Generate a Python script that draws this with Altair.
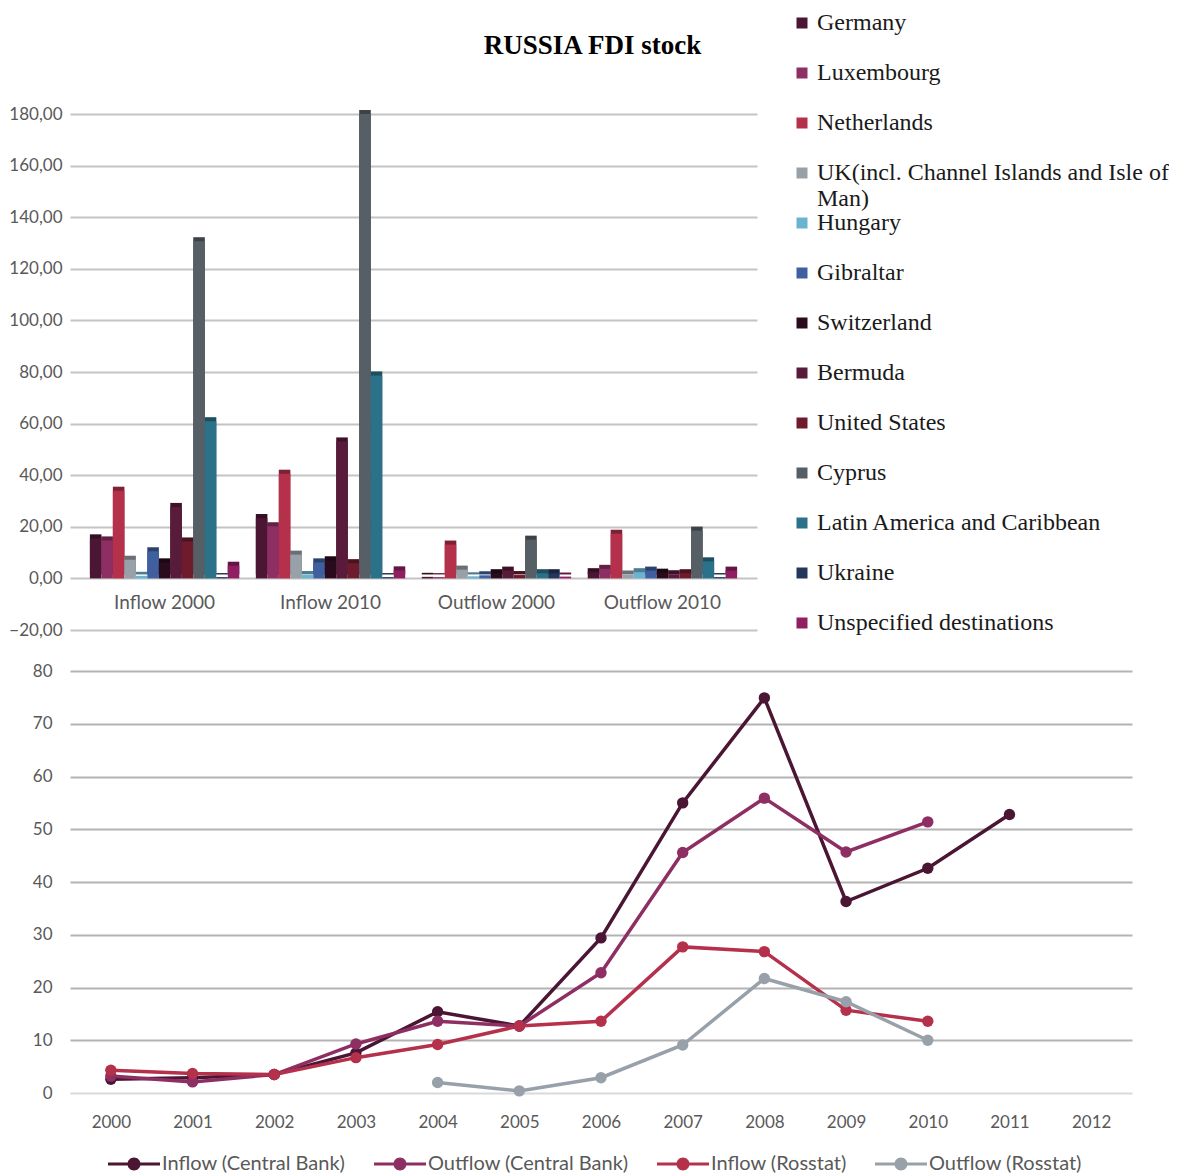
import altair as alt
import pandas as pd

# ---------------- data ----------------
flows = ["Inflow 2000", "Inflow 2010", "Outflow 2000", "Outflow 2010"]
countries = [
    "Germany", "Luxembourg", "Netherlands",
    "UK(incl. Channel Islands and Isle of Man)", "Hungary", "Gibraltar",
    "Switzerland", "Bermuda", "United States", "Cyprus",
    "Latin America and Caribbean", "Ukraine", "Unspecified destinations",
]
country_colors = [
    "#4b1534", "#8e2f63", "#b5304a", "#98a0a8", "#6bb3d0", "#3f5f9e",
    "#2a0b1e", "#581b3a", "#6e1b2e", "#575f66", "#2b7189", "#23365b",
    "#8f1f62",
]
inflow_2000 = [15.5, 14.7, 34.0, 7.2, 1.0, 10.5, 6.2, 27.7, 14.3, 130.7, 60.9, 0.5, 4.9]
inflow_2010 = [23.4, 20.2, 40.6, 9.2, 1.3, 6.2, 7.0, 53.1, 5.9, 180.0, 78.6, 0.5, 3.1]
outflow_2000 = [0.6, 0.5, 13.1, 3.4, 0.8, 1.2, 2.0, 3.0, 1.3, 15.0, 2.0, 2.0, 0.7]
outflow_2010 = [2.4, 3.7, 17.3, 1.5, 2.4, 3.0, 2.2, 1.6, 2.0, 18.5, 6.6, 0.5, 3.0]

years = [str(y) for y in range(2000, 2013)]
series = ["Inflow (Central Bank)", "Outflow (Central Bank)", "Inflow (Rosstat)", "Outflow (Rosstat)"]
series_colors = ["#4b1534", "#8e2f63", "#b5304a", "#98a1aa"]
inflow_cb = [2.6, 2.9, 3.5, 7.6, 15.4, 12.7, 29.4, 55.0, 74.9, 36.3, 42.6, 52.8, None]
outflow_cb = [3.2, 2.1, 3.5, 9.3, 13.6, 12.7, 22.8, 45.6, 55.9, 45.7, 51.4, None, None]
inflow_rs = [4.3, 3.7, 3.5, 6.7, 9.2, 12.7, 13.6, 27.7, 26.8, 15.7, 13.6, None, None]
outflow_rs = [None, None, None, None, 2.0, 0.4, 2.9, 9.1, 21.7, 17.3, 10.0, None, None]

# ---------------- tables ----------------
bar_rows = []
for f, vals in zip(flows, [inflow_2000, inflow_2010, outflow_2000, outflow_2010]):
    for c, v in zip(countries, vals):
        bar_rows.append({"flow": f, "country": c, "value": v})
bars_df = pd.DataFrame(bar_rows)
flows_df = pd.DataFrame({"flow": flows})

line_rows = []
for s, vals in zip(series, [inflow_cb, outflow_cb, inflow_rs, outflow_rs]):
    for y, v in zip(years, vals):
        if v is not None:
            line_rows.append({"series": s, "year": y, "value": v})
lines_df = pd.DataFrame(line_rows)

SANS = "Lato"
SERIF = "Liberation Serif"
LABEL_GREY = "#595959"

# ---------------- top chart ----------------
x_enc = alt.X("flow:N", sort=flows, axis=None,
              scale=alt.Scale(domain=flows, paddingInner=0.1, paddingOuter=0.12, align=0.5))
xoff_enc = alt.XOffset("country:N", sort=countries,
                       scale=alt.Scale(domain=countries, paddingInner=0, paddingOuter=0))
y_top = alt.Y("value:Q",
              scale=alt.Scale(domain=[-20, 180], nice=False),
              axis=alt.Axis(values=list(range(-20, 181, 20)), title=None,
                            labelExpr="replace(format(datum.value, '.2f'), '.', ',')",
                            labelFont=SANS, labelFontSize=17, labelColor=LABEL_GREY,
                            labelPadding=8, domain=False, ticks=False,
                            gridColor="#c4c4c4", gridWidth=2))

UK = "UK(incl. Channel Islands and Isle of Man)"
top_legend = alt.Legend(
    title=None, orient="none", legendX=720, legendY=-103,
    labelFont=SERIF, labelFontSize=24, labelColor="#1a1a1a", labelLimit=420,
    labelOffset=3, symbolType="square", symbolSize=121, symbolStrokeWidth=0,
    rowPadding=0, direction="vertical",
    labelExpr=("datum.label == '" + UK + "' ? ['UK(incl. Channel Islands and Isle of', 'Man)']"
               " : [datum.label, '']"),
)
color_top = alt.Color("country:N", sort=countries,
                      scale=alt.Scale(domain=countries, range=country_colors),
                      legend=top_legend)

side = alt.Chart(bars_df).mark_bar(xOffset=4, yOffset=-4).encode(
    x=x_enc, xOffset=xoff_enc, y=y_top, color=color_top)
side_shade = alt.Chart(bars_df).mark_bar(xOffset=4, yOffset=-4, color="black", opacity=0.3).encode(
    x=x_enc, xOffset=xoff_enc, y=y_top)
front = alt.Chart(bars_df).mark_bar().encode(
    x=x_enc, xOffset=xoff_enc, y=y_top, color=color_top)
cat_labels = alt.Chart(flows_df).mark_text(
    font=SANS, fontSize=19, color=LABEL_GREY, dy=25, baseline="middle").encode(
    x=alt.X("flow:N", sort=flows, axis=None), y=alt.datum(0), text="flow:N")

top = alt.layer(side, side_shade, front, cat_labels).properties(
    width=687, height=516,
    title=alt.TitleParams("RUSSIA FDI stock", font=SERIF, fontSize=27, fontWeight="bold",
                          color="#000000", anchor="middle", frame="group", dx=179,
                          offset=-49),
)

# ---------------- bottom chart ----------------
LEG_PATH = ("M-1,-0.06L1,-0.06L1,0.06L-1,0.06Z"
            "M0.25,0A0.25,0.25,0,1,1,-0.25,0A0.25,0.25,0,1,1,0.25,0Z")
x_bot = alt.X("year:O", sort=years,
              scale=alt.Scale(domain=years, type="point", padding=0.5),
              axis=alt.Axis(title=None, labelAngle=0, labelFont=SANS, labelFontSize=17,
                            labelColor=LABEL_GREY, labelPadding=21, domain=False, ticks=False,
                            grid=False))
y_bot = alt.Y("value:Q", scale=alt.Scale(domain=[0, 80], nice=False),
              axis=alt.Axis(values=list(range(0, 81, 10)), title=None,
                            labelFont=SANS, labelFontSize=17, labelColor=LABEL_GREY,
                            labelPadding=18, domain=False, ticks=False,
                            gridColor={"condition": {"test": "datum.value === 0", "value": "#d9d9d9"},
                                       "value": "#b3b3b3"},
                            gridWidth=2))
series_color = alt.Color("series:N", sort=series,
                         scale=alt.Scale(domain=series, range=series_colors),
                         legend=alt.Legend(title=None, orient="none", direction="horizontal",
                                           legendX=38, legendY=467,
                                           symbolType=LEG_PATH, symbolSize=2704,
                                           symbolStrokeWidth=0, symbolOpacity=1,
                                           labelFont=SANS, labelFontSize=20, labelColor=LABEL_GREY,
                                           labelOffset=2, columnPadding=28, labelLimit=300))
line_layer = alt.Chart(lines_df).mark_line(strokeWidth=3.5).encode(
    x=x_bot, y=y_bot, color=series_color,
    order=alt.Order("year:O"),
)
point_layer = alt.Chart(lines_df).mark_circle(size=130, opacity=1).encode(
    x=x_bot, y=y_bot, color=series_color,
)
bottom = alt.layer(line_layer, point_layer).properties(width=1062, height=422)

chart = alt.vconcat(top, bottom, spacing=1).resolve_scale(
    color="independent", x="independent", y="independent"
).resolve_legend(color="independent").properties(
    padding={"top": 3, "left": 0, "right": 0, "bottom": 0}
).configure_view(stroke=None).configure_axis(gridOpacity=1)

chart.save("out.html", embed_options={"renderer": "svg", "actions": False})
